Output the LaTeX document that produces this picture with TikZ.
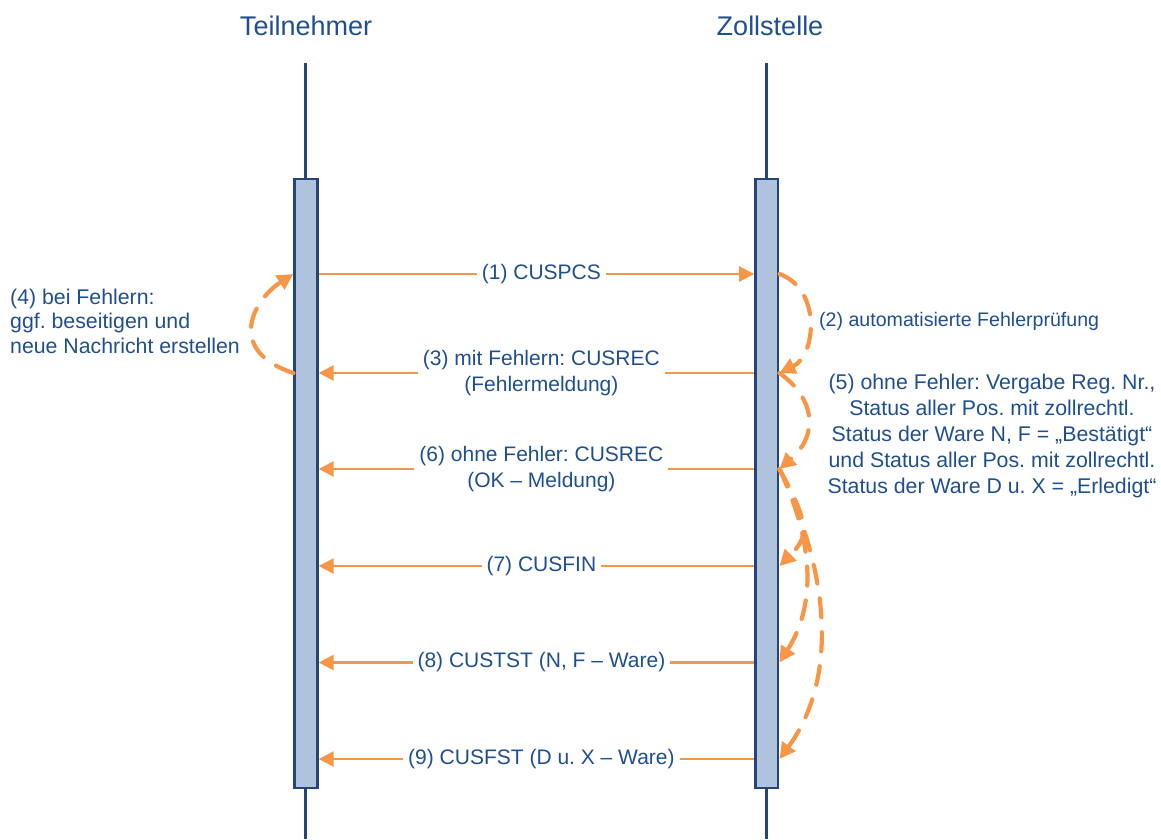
\documentclass[tikz,border=0pt]{standalone}
\usepackage{fontspec}
\setmainfont{Liberation Sans}
\usetikzlibrary{arrows.meta}
\frenchspacing
\definecolor{txtblue}{HTML}{1F4F8F}
\definecolor{navy}{HTML}{23457A}
\definecolor{boxfill}{HTML}{AFC3DC}
\definecolor{orng}{HTML}{F79646}
\tikzset{
  title/.style={text=txtblue, font=\fontsize{27}{31}\selectfont, inner sep=0pt},
  lbl/.style={text=txtblue, font=\fontsize{21}{26}\selectfont, align=center, fill=white, inner xsep=5pt, inner ysep=1pt, xshift=5pt},
  note/.style={text=txtblue, font=\fontsize{21.3}{26}\selectfont, inner sep=0pt},
  life/.style={draw=navy, line width=2.8pt},
  actbox/.style={draw=navy, fill=boxfill, line width=2.7pt, minimum width=22.6pt, minimum height=609pt, inner sep=0pt},
  msg/.style={draw=orng, line width=2.5pt, -{Triangle[length=15pt,width=15pt]}},
  dasharrow/.style={draw=orng, line width=4.2pt, line cap=round, dash pattern=on 19pt off 15pt, -{Triangle[length=16pt,width=16pt]}},
}
\begin{document}
\begin{tikzpicture}[x=1pt,y=-1pt]
\useasboundingbox (0,0) rectangle (1161,839);
% titles
\node[title] (tT) at (306,26) {Teilnehmer};
\node[title] (tZ) at (770,26) {Zollstelle};
% lifelines
\coordinate (lTtop) at (305.5,63);
\coordinate (lTbot) at (305.5,839);
\coordinate (lZtop) at (766.8,63);
\coordinate (lZbot) at (766.8,839);
\draw[life] (lTtop) -- (lTbot);
\draw[life] (lZtop) -- (lZbot);
% activation boxes
\node[actbox] (boxT) at (306,483.5) {};
\node[actbox] (boxZ) at (766.8,483.5) {};
% message levels
\coordinate (y1) at (0,274);
\coordinate (y3) at (0,373);
\coordinate (y6) at (0,469);
\coordinate (y7) at (0,566);
\coordinate (y8) at (0,662.5);
\coordinate (y9) at (0,759);
% messages
\draw[msg] (boxT.east |- y1) -- node[lbl] {(1) CUSPCS} (boxZ.west |- y1);
\draw[msg] (boxZ.west |- y3) -- node[lbl] {(3) mit Fehlern: CUSREC\\(Fehlermeldung)} (boxT.east |- y3);
\draw[msg] (boxZ.west |- y6) -- node[lbl] {(6) ohne Fehler: CUSREC\\(OK -- Meldung)} (boxT.east |- y6);
\draw[msg] (boxZ.west |- y7) -- node[lbl] {(7) CUSFIN} (boxT.east |- y7);
\draw[msg] (boxZ.west |- y8) -- node[lbl] {(8) CUSTST (N, F -- Ware)} (boxT.east |- y8);
\draw[msg] (boxZ.west |- y9) -- node[lbl] {(9) CUSFST (D u. X -- Ware)} (boxT.east |- y9);
% dashed self-loops
\draw[dasharrow] (boxT.west |- y3) .. controls +(-69,-23) and +(-39,25) .. (boxT.west |- y1);
\draw[dasharrow] (boxZ.east |- y1) .. controls +(42,15) and +(37,-18) .. (boxZ.east |- y3);
\draw[dasharrow] (boxZ.east |- y3) .. controls +(35,25) and +(40,-35) .. (boxZ.east |- y6);
\draw[dasharrow] (boxZ.east |- y6) .. controls +(30,55) and +(30,-30) .. (boxZ.east |- y7);
\draw[dasharrow] (boxZ.east |- y6) .. controls +(40,85) and +(32,-50) .. (boxZ.east |- y8);
\draw[dasharrow] (boxZ.east |- y6) .. controls +(55,115) and +(55,-75) .. (boxZ.east |- y9);
% notes
\node[note, anchor=west, align=left, font=\fontsize{21.3}{24.5}\selectfont] (n4) at (10,321) {(4) bei Fehlern:\\ggf. beseitigen und\\neue Nachricht erstellen};
\node[note, anchor=west, font=\fontsize{19.6}{24}\selectfont] (n2) at (819,321) {(2) automatisierte Fehlerprüfung};
\node[note, align=center] (n5) at (992,436) {(5) ohne Fehler: Vergabe Reg. Nr.,\\Status aller Pos. mit zollrechtl.\\Status der Ware N, F = „Bestätigt“\\und Status aller Pos. mit zollrechtl.\\Status der Ware D u. X = „Erledigt“};
\end{tikzpicture}
\end{document}
